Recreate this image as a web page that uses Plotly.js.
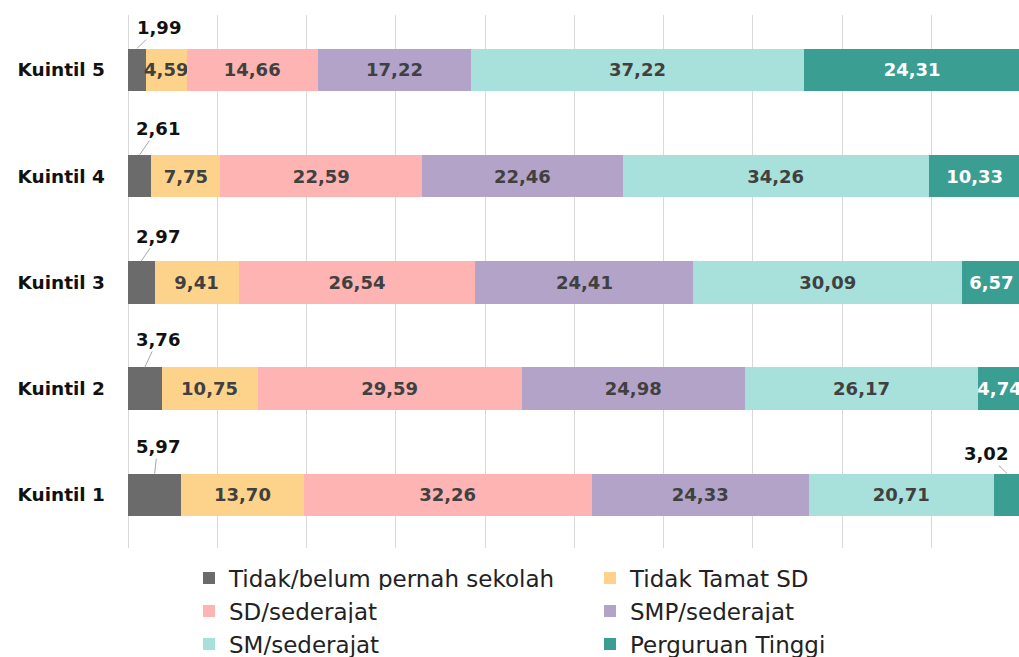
<!DOCTYPE html>
<html>
<head>
<meta charset="utf-8">
<script src="https://cdn.plot.ly/plotly-3.0.1.min.js"></script>
<style>html,body{margin:0;padding:0;background:#fff;overflow:hidden;}</style>
</head>
<body>
<div id="chart" style="width:1019px;height:657px;"></div>
<script>
const categories = ['Kuintil 1', 'Kuintil 2', 'Kuintil 3', 'Kuintil 4', 'Kuintil 5'];
const seriesNames = ['Tidak/belum pernah sekolah', 'Tidak Tamat SD', 'SD/sederajat', 'SMP/sederajat', 'SM/sederajat', 'Perguruan Tinggi'];
const tidakSekolah = [5.97, 3.76, 2.97, 2.61, 1.99];
const tidakTamatSD = [13.70, 10.75, 9.41, 7.75, 4.59];
const sd = [32.26, 29.59, 26.54, 22.59, 14.66];
const smp = [24.33, 24.98, 24.41, 22.46, 17.22];
const sm = [20.71, 26.17, 30.09, 34.26, 37.22];
const pt = [3.02, 4.74, 6.57, 10.33, 24.31];
const colors = ['#6b6b6b', '#fdd38b', '#fdb4b2', '#b3a3c9', '#a8e1db', '#3a9e92'];

const series = [tidakSekolah, tidakTamatSD, sd, smp, sm, pt];
const fmt = v => v.toFixed(2).replace('.', ',');
const FONT = 'DejaVu Sans, sans-serif';

// labels drawn as callouts above the bar instead of inside it
const calloutOffset = {
  '0-0': [3, -27], '0-1': [13, -28], '0-2': [17, -25], '0-3': [18, -26], '0-4': [22, -21],
  '5-0': [-21, -20]
};
const legendIds = ['legend', 'legend', 'legend2', 'legend2', 'legend3', 'legend3'];

const traces = series.map((vals, s) => ({
  type: 'bar',
  orientation: 'h',
  name: seriesNames[s],
  legend: legendIds[s],
  y: categories,
  x: vals,
  marker: {color: colors[s], line: {width: 0}},
  text: vals.map((v, i) => calloutOffset[s + '-' + i] ? '' : fmt(v)),
  textposition: 'inside',
  insidetextanchor: 'middle',
  textangle: 0,
  constraintext: 'none',
  insidetextfont: {family: FONT, size: 18, color: s === 5 ? '#ffffff' : '#404040', weight: 'bold'},
  hoverinfo: 'none'
}));

const annotations = [];
series.forEach((vals, s) => {
  vals.forEach((v, i) => {
    const off = calloutOffset[s + '-' + i];
    if (!off) return;
    let start = 0;
    for (let k = 0; k < s; k++) start += series[k][i];
    annotations.push({
      x: start + v / 2, y: i + 0.2, xref: 'x', yref: 'y',
      text: '<b>' + fmt(v) + '</b>',
      showarrow: true, arrowhead: 0, arrowwidth: 1, arrowcolor: '#a6a6a6',
      ax: off[0], ay: off[1], standoff: 0,
      font: {family: FONT, size: 18, color: '#111111'}
    });
  });
});

const legendBase = {
  orientation: 'h', xref: 'container', yref: 'container',
  x: 189 / 1019, xanchor: 'left', yanchor: 'middle',
  entrywidth: 356, entrywidthmode: 'pixels', traceorder: 'normal',
  font: {family: FONT, size: 23, color: '#222222'}
};

const layout = {
  width: 1019, height: 657,
  margin: {l: 128, r: 0, t: 15, b: 109},
  paper_bgcolor: '#ffffff', plot_bgcolor: '#ffffff',
  barmode: 'stack',
  bargap: 0.6,
  showlegend: true,
  xaxis: {range: [0, 99.8], dtick: 10, showgrid: true, gridcolor: '#d9d9d9', gridwidth: 1,
          zeroline: true, zerolinecolor: '#d9d9d9', zerolinewidth: 1,
          showticklabels: false, ticks: '', fixedrange: true},
  yaxis: {type: 'category', categoryorder: 'array', categoryarray: categories,
          showgrid: false, zeroline: false, ticks: '', ticklabelstandoff: 22,
          tickfont: {family: FONT, size: 18.5, color: '#111111', weight: 'bold'}},
  legend: Object.assign({}, legendBase, {y: 1 - 578 / 657}),
  legend2: Object.assign({}, legendBase, {y: 1 - 611 / 657}),
  legend3: Object.assign({}, legendBase, {y: 1 - 644 / 657}),
  annotations: annotations
};

Plotly.newPlot('chart', traces, layout, {displayModeBar: false, staticPlot: true});
</script>
</body>
</html>
